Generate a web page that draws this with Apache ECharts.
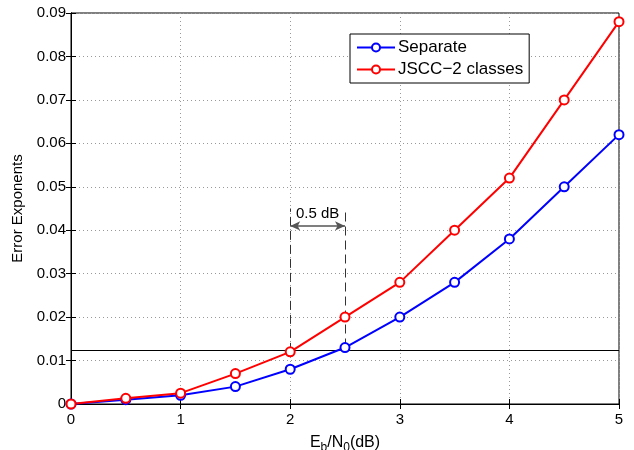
<!DOCTYPE html>
<html>
<head>
<meta charset="utf-8">
<script src="https://cdn.jsdelivr.net/npm/echarts@6/dist/echarts.min.js"></script>
<style>
  html, body { margin: 0; padding: 0; background: #fff; }
  #chart { width: 634px; height: 450px; }
</style>
</head>
<body>
<div id="chart"></div>
<script>
// Eb/N0 in dB
const snrDb = [0, 0.5, 1, 1.5, 2, 2.5, 3, 3.5, 4, 4.5, 5];
// Error exponents per scheme
const separate = [0, 0.001, 0.002, 0.004, 0.008, 0.013, 0.020, 0.028, 0.038, 0.050, 0.062];
const jscc2 = [0, 0.0013, 0.0025, 0.007, 0.012, 0.020, 0.028, 0.040, 0.052, 0.070, 0.088];
const seriesNames = ['Separate', 'JSCC\u22122 classes'];

// Target exponent level and the 0.5 dB gap markers
const targetLevel = 0.0124;
const gapStart = 2, gapEnd = 2.5;
const gapTop = 0.045;
const gapArrowY = 0.041;
const gapLabel = '0.5 dB';

const font = 'Liberation Sans, Arial, Helvetica, sans-serif';

const chart = echarts.init(document.getElementById('chart'), null, { renderer: 'canvas' });

const pairs = (ys) => snrDb.map((x, i) => [x, ys[i]]);

const baseLine = (name, color, ys) => ({
  name: name,
  type: 'line',
  data: pairs(ys),
  symbol: 'emptyCircle',
  symbolSize: 9,
  showAllSymbol: true,
  lineStyle: { color: color, width: 2 },
  itemStyle: { color: color, borderColor: color, borderWidth: 2 },
  z: 5,
  animation: false
});

const sepSeries = baseLine(seriesNames[0], '#0000ff', separate);
const jsccSeries = baseLine(seriesNames[1], '#ff0000', jscc2);

// horizontal reference line across the whole plot
sepSeries.markLine = {
  silent: true,
  precision: 5,
  symbol: ['none', 'none'],
  label: { show: false },
  lineStyle: { color: '#000', width: 1, type: 'solid' },
  data: [{ yAxis: targetLevel }],
  animation: false
};

// dashed verticals and the double arrow between them
jsccSeries.markLine = {
  silent: true,
  precision: 5,
  symbol: ['none', 'none'],
  animation: false,
  data: [
    [
      { coord: [gapStart, jscc2[snrDb.indexOf(gapStart)]], lineStyle: { color: '#333', width: 1, type: [9, 5] }, label: { show: false } },
      { coord: [gapStart, gapTop] }
    ],
    [
      { coord: [gapEnd, separate[snrDb.indexOf(gapEnd)]], lineStyle: { color: '#333', width: 1, type: [9, 5] }, label: { show: false } },
      { coord: [gapEnd, gapTop] }
    ],
    [
      {
        coord: [gapStart, gapArrowY],
        symbol: 'arrow',
        symbolSize: [7, 10],
        lineStyle: { color: '#555', width: 1.5, type: 'solid' },
        label: {
          show: true,
          formatter: gapLabel,
          position: 'insideMiddleTop',
          distance: 5,
          color: '#000',
          fontFamily: font,
          fontSize: 15
        }
      },
      { coord: [gapEnd, gapArrowY], symbol: 'arrow', symbolSize: [7, 10] }
    ]
  ]
};

const option = {
  backgroundColor: '#fff',
  animation: false,
  grid: {
    left: 71, right: 15, top: 13, bottom: 46,
    show: true, borderColor: '#000', borderWidth: 1,
    outerBoundsMode: 'none',
    containLabel: false
  },
  legend: {
    orient: 'vertical',
    left: 350, top: 34,
    padding: [5, 6, 5, 6],
    itemGap: 5,
    itemWidth: 38,
    itemHeight: 10,
    backgroundColor: '#fff',
    borderColor: '#000',
    borderWidth: 1,
    textStyle: { fontFamily: font, fontSize: 17, color: '#000', padding: [0, 0, 0, -2] },
    data: seriesNames,
    selectedMode: false
  },
  xAxis: [
    {
      type: 'value', min: 0, max: 5, interval: 1,
      name: 'E{sub|b}/N{sub|0}(dB)',
      nameLocation: 'middle', nameGap: 28,
      nameTextStyle: {
        fontFamily: font, fontSize: 16, color: '#000',
        rich: { sub: { fontFamily: font, fontSize: 12, color: '#000', verticalAlign: 'bottom', padding: [10, 0, 0, 0] } }
      },
      axisLine: { show: true, lineStyle: { color: '#000' } },
      axisTick: { show: true, inside: true, length: 5, lineStyle: { color: '#000' } },
      axisLabel: { fontFamily: font, fontSize: 15, color: '#000', margin: 8 },
      splitLine: { show: true, lineStyle: { color: '#999', type: [1, 3], width: 1 } }
    },
    {
      type: 'value', min: 0, max: 5, interval: 1, position: 'top',
      axisLine: { show: true, lineStyle: { color: '#000' } },
      axisTick: { show: true, inside: true, length: 5, lineStyle: { color: '#000' } },
      axisLabel: { show: false },
      splitLine: { show: false }
    }
  ],
  yAxis: [
    {
      type: 'value', min: 0, max: 0.09, interval: 0.01,
      name: 'Error Exponents',
      nameLocation: 'middle', nameGap: 46,
      nameTextStyle: { fontFamily: font, fontSize: 15, color: '#000' },
      axisLine: { show: true, lineStyle: { color: '#000' } },
      axisTick: { show: true, inside: true, length: 5, lineStyle: { color: '#000' } },
      axisLabel: {
        fontFamily: font, fontSize: 15, color: '#000', margin: 5,
        formatter: v => (Math.abs(v) < 1e-9 ? '0' : v.toFixed(2))
      },
      splitLine: { show: true, lineStyle: { color: '#999', type: [1, 3], width: 1 } }
    },
    {
      type: 'value', min: 0, max: 0.09, interval: 0.01, position: 'right',
      axisLine: { show: true, lineStyle: { color: '#000' } },
      axisTick: { show: true, inside: true, length: 5, lineStyle: { color: '#000' } },
      axisLabel: { show: false },
      splitLine: { show: false }
    }
  ],
  series: [sepSeries, jsccSeries]
};

chart.setOption(option);
</script>
</body>
</html>
